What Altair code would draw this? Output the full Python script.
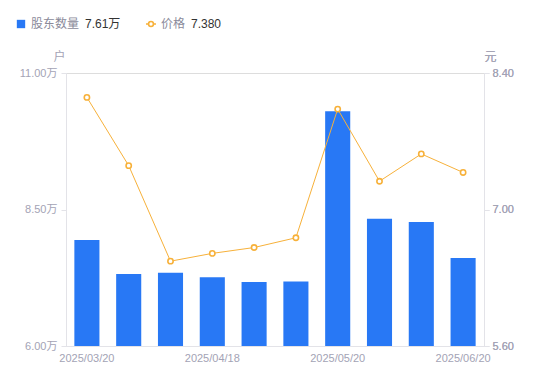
import altair as alt
import pandas as pd

dates = ["2025/03/20", "2025/03/31", "2025/04/10", "2025/04/18", "2025/04/30",
         "2025/05/09", "2025/05/20", "2025/05/30", "2025/06/10", "2025/06/20"]
holders = [7.94, 7.32, 7.34, 7.26, 7.17, 7.18, 10.30, 8.33, 8.27, 7.61]  # 万户
prices = [8.15, 7.45, 6.47, 6.55, 6.61, 6.71, 8.03, 7.29, 7.57, 7.38]
shown_dates = ["2025/03/20", "2025/04/18", "2025/05/20", "2025/06/20"]

df = pd.DataFrame({"date": dates, "holders": holders, "price": prices})

FONT = "Liberation Sans, Noto Sans CJK SC, sans-serif"
LABEL = "#a3a3b5"
AXIS = "#e3e3e8"
BLUE = "#2878f5"
ORANGE = "#f7b13a"

x = alt.X("date:N", sort=dates, title=None,
          scale=alt.Scale(paddingInner=0.4, paddingOuter=0.2),
          axis=alt.Axis(values=shown_dates, labelAngle=0, ticks=False,
                        domainColor=AXIS, labelColor=LABEL, labelFontSize=11,
                        labelFont=FONT, labelPadding=6))

bars = alt.Chart(df).mark_bar(color=BLUE).encode(
    x=x,
    y=alt.Y("holders:Q", scale=alt.Scale(domain=[6, 11], nice=False, zero=False, clamp=True),
            axis=alt.Axis(orient="left", values=[6, 8.5, 11], grid=False,
                          labelExpr="format(datum.value, '.2f') + '万'",
                          domainColor=AXIS, tickColor=AXIS, tickSize=5, labelPadding=4,
                          labelColor=LABEL, labelFontSize=11, labelFont=FONT,
                          title="户", titleAngle=0, titleX=-7, titleY=-10,
                          titleAlign="center", titleColor=LABEL,
                          titleFontWeight="normal", titleFontSize=12, titleFont=FONT)),
    y2=alt.datum(6),
)

line_base = alt.Chart(df).encode(
    x=x,
    y=alt.Y("price:Q", scale=alt.Scale(domain=[5.6, 8.4], nice=False, zero=False),
            axis=alt.Axis(orient="right", values=[5.6, 7.0, 8.4], grid=False,
                          format=".2f",
                          domainColor=AXIS, tickColor=AXIS, tickSize=5, labelPadding=3,
                          labelColor=LABEL, labelFontSize=11, labelFont=FONT,
                          title="元", titleAngle=0, titleX=6, titleY=-10,
                          titleAlign="center", titleColor=LABEL,
                          titleFontWeight="normal", titleFontSize=12, titleFont=FONT)),
)
line = line_base.mark_line(color=ORANGE, strokeWidth=1)
pts = line_base.mark_point(shape="circle", filled=True, fill="white",
                           stroke=ORANGE, strokeWidth=1.6, size=28, opacity=1)

one = pd.DataFrame({"k": [0]})
leg_sq = alt.Chart(one).mark_square(color=BLUE, size=70, opacity=1).encode(
    x=alt.value(-45), y=alt.value(-49))
leg_t1 = alt.Chart(one).mark_text(text="股东数量", align="left", baseline="middle",
                                  fontSize=12, color="#8a8a9a", font=FONT).encode(
    x=alt.value(-35), y=alt.value(-49))
leg_v1 = alt.Chart(one).mark_text(text=f"{holders[-1]:.2f}万", align="left", baseline="middle",
                                  fontSize=12, color="#333333", font=FONT).encode(
    x=alt.value(19), y=alt.value(-49))
leg_ln = alt.Chart(one).mark_rule(color=ORANGE, strokeWidth=1.5).encode(
    x=alt.value(80), x2=alt.value(90), y=alt.value(-49))
leg_pt = alt.Chart(one).mark_point(shape="circle", filled=True, fill="white",
                                   stroke=ORANGE, strokeWidth=1.6, size=24, opacity=1).encode(
    x=alt.value(85), y=alt.value(-49))
leg_t2 = alt.Chart(one).mark_text(text="价格", align="left", baseline="middle",
                                  fontSize=12, color="#8a8a9a", font=FONT).encode(
    x=alt.value(95), y=alt.value(-49))
leg_v2 = alt.Chart(one).mark_text(text=f"{prices[-1]:.3f}", align="left", baseline="middle",
                                  fontSize=12, color="#333333", font=FONT).encode(
    x=alt.value(125), y=alt.value(-49))

chart = alt.layer(
    bars, line, pts, leg_sq, leg_t1, leg_v1, leg_ln, leg_pt, leg_t2, leg_v2
).resolve_scale(y="independent").properties(
    width=418, height=273,
    autosize=alt.AutoSizeParams(type="none"),
    padding={"left": 58, "top": 65, "right": 58, "bottom": 27},
).configure_view(stroke=None).configure(background="white")

chart.save("out.html", embed_options={"renderer": "svg", "actions": False})
